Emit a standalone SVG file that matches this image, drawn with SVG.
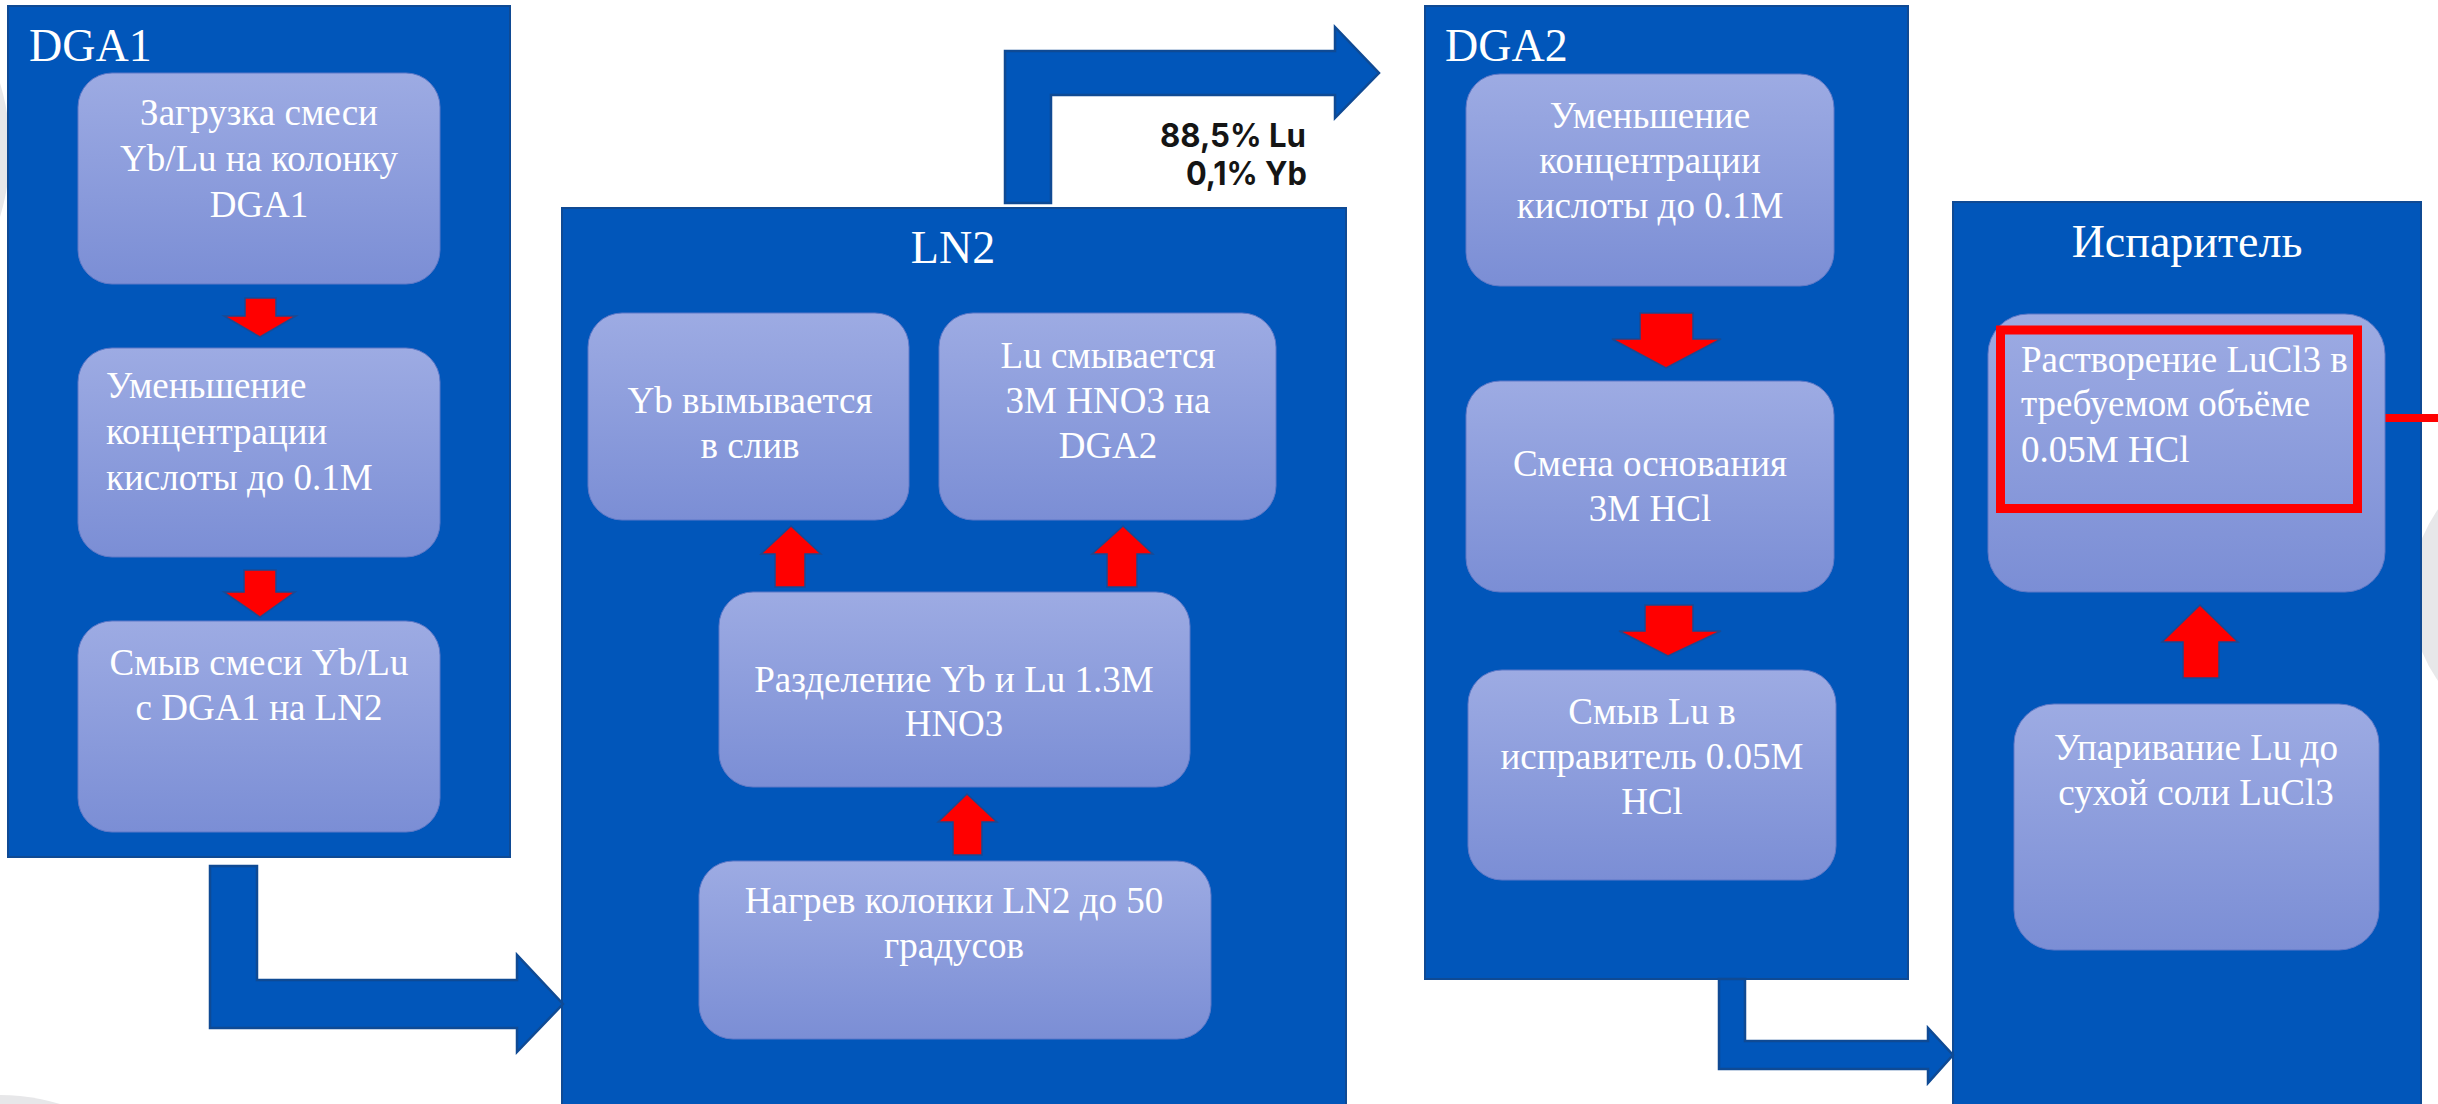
<svg xmlns="http://www.w3.org/2000/svg" width="2438" height="1104" viewBox="0 0 2438 1104">
<defs>
<linearGradient id="boxg" x1="0" y1="0" x2="0" y2="1">
<stop offset="0" stop-color="#9DABE3"/>
<stop offset="1" stop-color="#7B8ED5"/>
</linearGradient>
<style>
.panel{fill:#0156BA;stroke:#0F4A94;stroke-width:2}
.box{fill:url(#boxg);stroke:#5F79C8;stroke-width:1}
.t{font-family:"Liberation Serif","Times New Roman",serif;font-size:37px;fill:#FFFFFF}
.c{text-anchor:middle}
.title{font-family:"Liberation Serif","Times New Roman",serif;font-size:46px;fill:#FFFFFF}
.red{fill:#FF0000;stroke:#1A4A92;stroke-width:1.5;stroke-linejoin:miter}
.blue{fill:#0156BA;stroke:#0F4A94;stroke-width:2.5}
.lbl{font-family:Inter,"Noto Sans","Liberation Sans",sans-serif;font-weight:700;font-size:32px;fill:#151515;text-anchor:end}
.bg{fill:#E7E7E9}
</style>
</defs>
<rect x="0" y="0" width="2438" height="1104" fill="#FFFFFF"/>
<g id="background">
<circle class="bg" cx="-220" cy="150" r="230"/>
<circle class="bg" cx="0" cy="1300" r="205"/>
<circle class="bg" cx="2561" cy="595" r="150"/>
</g>

<g id="panel-dga1">
<rect class="panel" x="8" y="6" width="502" height="851"/>
<text class="title" x="29" y="61">DGA1</text>
</g>
<g id="panel-ln2">
<rect class="panel" x="562" y="208" width="784" height="910"/>
<text class="title c" x="953" y="263">LN2</text>
</g>
<g id="panel-dga2">
<rect class="panel" x="1425" y="6" width="483" height="973"/>
<text class="title" x="1445" y="61">DGA2</text>
</g>
<g id="panel-evaporator">
<rect class="panel" x="1953" y="202" width="468" height="916"/>
<text class="title c" x="2187" y="257">Испаритель</text>
</g>

<g id="connectors">
<path class="blue" d="M210,866 L257,866 L257,980 L517,980 L517,955 L563,1004 L517,1052 L517,1028 L210,1028 Z"/>
<path class="blue" d="M1005,203 L1005,51 L1335,51 L1335,27 L1379,73 L1335,118 L1335,95 L1051,95 L1051,203 Z"/>
<path class="blue" d="M1719,979 L1745,979 L1745,1041 L1928,1041 L1928,1028 L1953,1055 L1928,1083 L1928,1069 L1719,1069 Z"/>
<polygon class="red" points="245,298 276,298 276,316 296,316 260,337 224,316 245,316"/>
<polygon class="red" points="244,570 276,570 276,592 295,592 260,617 224,592 244,592"/>
<polygon class="red" points="791,526 821,554 805,554 805,587 775,587 775,554 761,554"/>
<polygon class="red" points="1123,526 1153,554 1137,554 1137,587 1107,587 1107,554 1092,554"/>
<polygon class="red" points="967,794 997,822 982,822 982,855 953,855 953,822 938,822"/>
<polygon class="red" points="1640,313 1693,313 1693,339 1721,339 1666,368 1612,339 1640,339"/>
<polygon class="red" points="1645,605 1693,605 1693,631 1721,631 1668,656 1619,631 1645,631"/>
<polygon class="red" points="2200,605 2238,642 2219,642 2219,678 2183,678 2183,642 2162,642"/>
<line x1="2362" y1="418" x2="2438" y2="418" stroke="#FF0000" stroke-width="8"/>
</g>
<g id="label-yield">
<text class="lbl" x="1306" y="147" textLength="146" lengthAdjust="spacingAndGlyphs">88,5% Lu</text>
<text class="lbl" x="1307" y="185" textLength="121" lengthAdjust="spacingAndGlyphs">0,1% Yb</text>
</g>

<g id="dga1-load">
<rect class="box" x="78" y="73" width="362" height="211" rx="34"/>
<text class="t c" x="259" y="125">Загрузка смеси</text>
<text class="t c" x="259" y="171">Yb/Lu на колонку</text>
<text class="t c" x="259" y="217">DGA1</text>
</g>
<g id="dga1-reduce">
<rect class="box" x="78" y="348" width="362" height="209" rx="34"/>
<text class="t" x="106" y="398">Уменьшение</text>
<text class="t" x="106" y="444">концентрации</text>
<text class="t" x="106" y="490">кислоты до 0.1M</text>
</g>
<g id="dga1-elute">
<rect class="box" x="78" y="621" width="362" height="211" rx="34"/>
<text class="t c" x="259" y="675">Смыв смеси Yb/Lu</text>
<text class="t c" x="259" y="720">с DGA1 на LN2</text>
</g>

<g id="ln2-yb">
<rect class="box" x="588" y="313" width="321" height="207" rx="34"/>
<text class="t c" x="750" y="413">Yb вымывается</text>
<text class="t c" x="750" y="458">в слив</text>
</g>
<g id="ln2-lu">
<rect class="box" x="939" y="313" width="337" height="207" rx="34"/>
<text class="t c" x="1108" y="368">Lu смывается</text>
<text class="t c" x="1108" y="413">3M HNO3 на</text>
<text class="t c" x="1108" y="458">DGA2</text>
</g>
<g id="ln2-separate">
<rect class="box" x="719" y="592" width="471" height="195" rx="34"/>
<text class="t c" x="954" y="692">Разделение Yb и Lu 1.3M</text>
<text class="t c" x="954" y="736">HNO3</text>
</g>
<g id="ln2-heat">
<rect class="box" x="699" y="861" width="512" height="178" rx="34"/>
<text class="t c" x="954" y="913">Нагрев колонки LN2 до 50</text>
<text class="t c" x="954" y="958">градусов</text>
</g>

<g id="dga2-reduce">
<rect class="box" x="1466" y="74" width="368" height="212" rx="34"/>
<text class="t c" x="1650" y="128">Уменьшение</text>
<text class="t c" x="1650" y="173">концентрации</text>
<text class="t c" x="1650" y="218">кислоты до 0.1M</text>
</g>
<g id="dga2-base">
<rect class="box" x="1466" y="381" width="368" height="211" rx="34"/>
<text class="t c" x="1650" y="476">Смена основания</text>
<text class="t c" x="1650" y="521">3M HCl</text>
</g>
<g id="dga2-elute">
<rect class="box" x="1468" y="670" width="368" height="210" rx="34"/>
<text class="t c" x="1652" y="724">Смыв Lu в</text>
<text class="t c" x="1652" y="769">исправитель 0.05M</text>
<text class="t c" x="1652" y="814">HCl</text>
</g>

<g id="evap-dissolve">
<rect class="box" x="1988" y="314" width="397" height="278" rx="40"/>
<rect x="2000.5" y="330" width="357" height="178.5" fill="none" stroke="#FF0000" stroke-width="9"/>
<text class="t" x="2021" y="372">Растворение LuCl3 в</text>
<text class="t" x="2021" y="416">требуемом объёме</text>
<text class="t" x="2021" y="462">0.05M HCl</text>
</g>
<g id="evap-dry">
<rect class="box" x="2014" y="704" width="365" height="246" rx="40"/>
<text class="t c" x="2196" y="760">Упаривание Lu до</text>
<text class="t c" x="2196" y="805">сухой соли LuCl3</text>
</g>
</svg>
